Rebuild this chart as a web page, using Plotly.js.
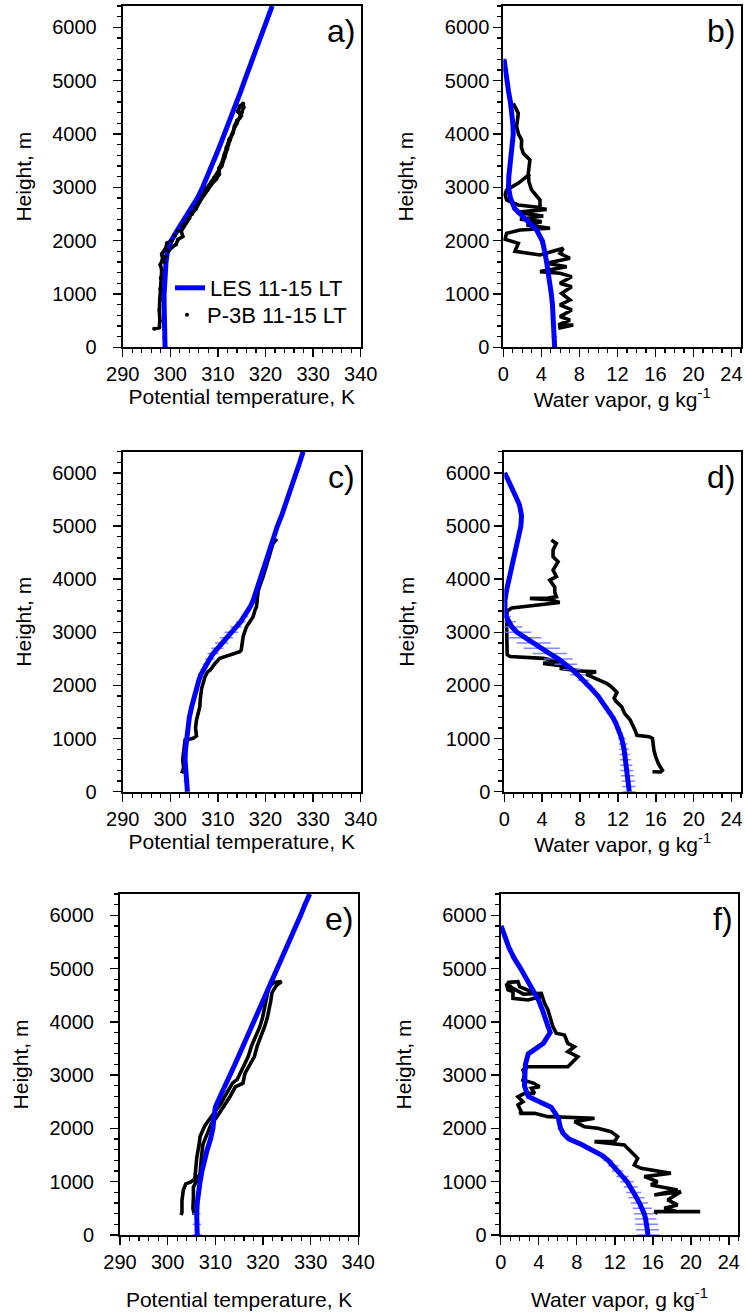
<!DOCTYPE html>
<html>
<head>
<meta charset="utf-8">
<script src="https://cdn.plot.ly/plotly-3.0.1.min.js"></script>
<style>html,body{margin:0;padding:0;background:#fff;}#chart{width:746px;height:1314px;}</style>
</head>
<body>
<div id="chart"></div>
<script>
// ---- LES model levels (m) ----
const lesHeights = [0,200,400,600,800,1000,1200,1400,1600,1800,2000,2200,2400,2600,2800,3000,3200,3400,3600,3800,4000,4200,4400,4600,4800,5000,5200,5400,5600,5800,6000,6200,6400];
const lesHeightsC = [0,200,400,600,800,1000,1200,1400,1600,1800,2000,2100,2200,2300,2400,2500,2600,2700,2800,2900,3000,3100,3200,3300,3400,3500,3600,3800,4000,4200,4400,4600,4800,5000,5200,5400,5600,5800,6000,6200,6400];
const lesHeightsD = [0,100,200,300,400,500,600,700,800,900,1000,1100,1200,1300,1400,1500,1600,1700,1800,1900,2000,2100,2200,2300,2400,2500,2600,2700,2800,2900,3000,3100,3200,3300,3400,3600,3800,4000,4200,4400,4600,4800,5000,5200,5400,5600,5800,6000];
const lesHeightsF = [0,100,200,300,400,500,600,700,800,900,1000,1100,1200,1300,1400,1500,1600,1700,1800,1900,2000,2200,2400,2600,2800,3000,3200,3400,3600,3800,4000,4200,4400,4600,4800,5000,5200,5400,5600,5800];

// ---- Panel a: potential temperature, case 1 ----
const lesThetaA = [298.9,298.8,298.7,298.7,298.7,298.7,298.8,298.9,299.1,299.4,300.2,301.5,303.0,304.4,305.7,306.8,307.8,308.7,309.6,310.5,311.4,312.3,313.1,314.0,314.8,315.6,316.4,317.3,318.1,318.9,319.8,320.6,321.4];
const lesThetaAErr = [0.6,0.5,0.4,0.3,0.3,0.3,0.3,0.3,0.3,0.3,0.3,0.4,0.4,0.4,0.3,0.3,0.3,0.3,0.3,0.3,0.3,0.3,0.3,0.3,0.3,0.3,0.3,0.3,0.3,0.3,0.3,0.3,0.3];
const obsThetaA = [296.6,297.7,297.8,297.7,297.8,297.9,298.0,298.2,297.9,298.4,298.2,299.0,299.3,300.3,301.0,301.6,302.6,303.6,304.6,305.4,306.3,307.0,307.8,308.6,309.6,310.3,310.2,310.8,311.3,311.8,312.4,313.0,313.4,314.0,314.6,315.0,315.4,315.3,
  314.6,314.2,314.9,314.0,313.5,313.2,312.5,312.0,311.4,310.8,310.0,309.2,308.6,307.6,306.8,306.0,305.2,304.4,304.0,303.4,302.8,302.3,302.6,301.6,301.2,300.4,299.6,299.0,298.8];
const obsHeightA = [350,370,500,700,900,1100,1300,1450,1550,1650,1750,1850,1950,2000,2100,2180,2300,2400,2500,2600,2750,2850,2950,3050,3150,3250,3350,3450,3600,3750,3900,4000,4100,4200,4300,4400,4500,4570,
  4520,4420,4340,4250,4150,4030,3880,3720,3560,3400,3280,3180,3100,2980,2850,2720,2620,2520,2420,2340,2260,2180,2080,2020,1930,1880,1800,1700,1600];

// ---- Panel b: water vapor, case 1 ----
const lesQvB = [5.4,5.37,5.32,5.26,5.17,5.05,4.92,4.75,4.55,4.35,4.1,3.5,2.4,1.2,0.75,0.55,0.58,0.7,0.85,0.98,1.05,1.0,0.9,0.75,0.55,0.35,0.2,0.08,null,null,null,null,null];
const lesQvBErr = [0.3,0.3,0.25,0.2,0.2,0.2,0.2,0.2,0.2,0.2,0.3,0.4,0.4,0.3,0.2,0.2,0.2,0.2,0.2,0.2,0.2,0.2,0.2,0.2,0.2,0.2,0.2,0.2,0.2,0.2,0.2,0.2,0.2];
const obsQvB = [1.05,1.3,1.58,1.4,1.6,1.93,1.9,2.1,2.8,2.63,2.7,2.98,3.86,3.86,4.56,1.4,4.2,1.75,4.03,2.45,4.91,1.75,0.35,0.18,1.58,1.23,3.86,6.31,5.96,7.0,4.56,6.66,3.86,5.96,7.19,5.96,7.19,6.13,7.01,5.96,7.19,5.96,7.01,5.78,7.36,5.78];
const obsHeightB = [4575,4480,4387,4137,4000,3887,3750,3637,3512,3262,3100,2950,2762,2600,2587,2530,2462,2400,2356,2294,2231,2200,2137,2025,1950,1800,1731,1856,1762,1669,1575,1512,1419,1387,1325,1200,1137,1012,887,794,700,575,512,419,419,356];
const obsQvB2 = [2.8,1.6,0.35,0.18,0.35,1.58,3.86];
const obsHeightB2 = [3250,3080,2950,2870,2762,2669,2620];

// ---- Panel c: potential temperature, case 2 ----
const lesThetaC = [303.6,303.4,303.2,303.1,303.2,303.4,303.7,304.0,304.5,305.0,305.6,306.0,306.4,306.95,307.6,308.3,309.0,309.9,310.8,311.8,312.8,313.8,314.8,315.6,316.3,316.9,317.4,318.1,319.0,319.6,320.3,321.0,321.7,322.5,323.4,324.2,324.9,325.7,326.4,327.2,327.9];
const lesThetaCErr = [0.6,0.6,0.5,0.5,0.5,0.4,0.4,0.4,0.4,0.4,0.4,0.45,0.5,0.6,0.8,1.0,1.2,1.3,1.4,1.4,1.4,1.2,1.0,0.8,0.6,0.5,0.4,0.3,0.3,0.3,0.3,0.3,0.3,0.3,0.3,0.3,0.3,0.3,0.3,0.3,0.3];
const obsThetaC = [302.4,302.8,302.6,302.9,303.1,304.2,304.8,305.5,305.3,305.5,306.0,306.2,306.3,306.4,306.6,307.3,307.8,308.4,308.9,309.4,310.4,311.4,312.5,313.6,314.6,314.9,315.0,315.3,316.0,316.6,317.4,317.8,318.1,318.3,318.5,319.5,320.6,321.3,321.6,322.4];
const obsHeightC = [346,450,600,800,973,990,1004,1050,1200,1349,1500,1600,1750,1850,1950,2164,2250,2290,2352,2415,2510,2540,2572,2600,2635,2666,2750,2917,3106,3200,3294,3420,3482,3650,3796,4046,4361,4600,4675,4760];

// ---- Panel d: water vapor, case 2 ----
const lesQvD = [13.2,13.15,13.1,13.02,12.95,12.88,12.8,12.72,12.65,12.55,12.4,12.2,12.0,11.75,11.45,11.1,10.7,10.3,9.9,9.4,8.9,8.35,7.75,7.15,6.5,5.7,4.8,3.95,3.1,2.2,1.35,0.8,0.42,0.2,0.07,0.07,0.25,0.5,0.75,0.95,1.2,1.47,1.75,1.82,1.6,1.1,0.6,0.05];
const lesQvDErr = [0.7,0.7,0.7,0.7,0.7,0.65,0.6,0.55,0.5,0.45,0.4,0.3,0.3,0.3,0.3,0.3,0.3,0.3,0.3,0.3,0.4,0.6,0.8,1.0,1.2,1.5,1.8,1.9,1.8,1.7,1.5,1.1,0.8,0.5,0.3,0.2,0.2,0.2,0.2,0.2,0.2,0.2,0.2,0.2,0.2,0.2,0.2,0.2];
const obsQvD = [4.97,5.5,5.15,5.15,5.68,5.15,5.5,4.8,5.33,5.33,5.5,4.6,2.7,4.8,5.85,4.0,0.8,0.3,0.25,0.25,0.25,0.25,0.3,0.6,2.5,4.1,5.85,4.1,6.9,5.85,8.3,9.7,8.65,10.05,10.8,11.3,11.9,11.6,11.8,12.4,12.7,13.3,13.6,13.8,14.0,15.3,15.65,15.7,15.8,16.0,16.3,16.7,16.5,15.65];
const obsHeightD = [4737,4674,4550,4423,4329,4172,4047,3984,3850,3750,3670,3645,3639,3615,3560,3520,3460,3400,3300,3100,2900,2700,2580,2545,2520,2510,2447,2415,2353,2321,2270,2258,2210,2102,2040,1976,1870,1760,1700,1600,1474,1349,1250,1161,1060,1035,1004,900,784,650,520,400,370,376];

// ---- Panel e: potential temperature, case 3 ----
const lesThetaE = [306.2,306.1,306.1,306.2,306.4,306.8,307.2,307.7,308.3,309.0,309.5,309.7,310.0,311.0,312.1,313.2,314.1,315.1,316.1,317.1,318.1,319.1,320.0,320.9,321.9,323.0,324.0,325.0,326.0,327.0,327.9,328.8,329.8];
const lesThetaEErr = [1.0,0.9,0.8,0.6,0.5,0.4,0.3,0.3,0.3,0.3,0.3,0.3,0.3,0.3,0.3,0.3,0.3,0.3,0.3,0.3,0.3,0.3,0.3,0.3,0.3,0.3,0.3,0.3,0.3,0.3,0.3,0.3,0.3];
const obsThetaE = [302.8,303.0,303.0,303.3,303.8,304.8,305.7,305.8,306.1,306.6,306.8,307.8,308.6,309.6,310.2,311.2,312.0,312.8,313.6,314.6,315.2,316.0,316.9,317.6,318.6,319.3,319.9,320.6,321.2,322.3,323.9,
  322.8,321.9,321.6,320.9,320.3,319.6,318.8,318.2,317.3,316.2,315.8,314.2,313.1,312.2,311.3,310.2,309.2,308.2,307.4,307.1,306.8,306.0,305.4,305.4,305.3,305.6];
const obsHeightE = [375,420,650,850,960,990,1050,1200,1450,1700,1850,2050,2150,2250,2350,2470,2600,2720,2850,2920,3030,3200,3350,3550,3750,3900,4070,4380,4650,4740,4755,
  4680,4550,4380,4070,3900,3750,3550,3350,3200,3030,2850,2780,2600,2470,2350,2200,2100,1850,1700,1470,1160,1000,900,700,500,380];

// ---- Panel f: water vapor, case 3 ----
const lesQvF = [15.5,15.45,15.35,15.25,15.1,14.9,14.6,14.3,14.0,13.7,13.3,12.8,12.3,11.85,11.3,10.6,9.6,8.5,7.2,6.6,6.3,6.05,5.3,2.9,2.5,2.5,2.6,2.9,4.5,5.2,4.85,4.43,4.0,3.4,2.75,2.1,1.4,0.85,0.45,0.05];
const lesQvFErr = [1.2,1.2,1.2,1.15,1.1,1.0,0.9,0.85,0.8,0.75,0.7,0.65,0.6,0.55,0.5,0.45,0.4,0.4,0.4,0.35,0.3,0.25,0.25,0.25,0.25,0.25,0.25,0.25,0.25,0.25,0.25,0.25,0.25,0.25,0.25,0.25,0.25,0.25,0.25,0.25];
const obsQvF = [0.59,0.77,1.29,1.29,2.87,4.27,3.22,1.99,1.82,0.7,1.1,2.4,4.27,4.62,4.97,5.32,5.49,5.84,6.71,7.06,7.76,7.06,8.11,7.59,7.06,2.87,2.34,2.52,2.34,3.5,4.09,3.22,3.57,2.52,1.82,2.34,1.82,2.17,1.99,3.57,4.97,9.87,7.76,8.81,10.21,11.61,12.31,11.96,9.87,13.01,13.71,14.41,14.06,14.76,17.91,15.11,16.5,15.81,18.61,16.16,18.96,17.56,18.61,17.21,18.61,20.99,16.16,16.5];
const obsHeightF = [4724,4599,4568,4443,4412,4474,4568,4662,4755,4740,4650,4520,4537,4349,4224,4036,3911,3786,3753,3597,3534,3440,3347,3253,3159,3159,3096,3002,2909,2847,2784,2753,2659,2659,2596,2502,2440,2315,2283,2283,2221,2190,2127,2033,2002,1940,1846,1752,1752,1690,1565,1440,1314,1252,1158,1095,1001,939,845,751,814,658,564,501,438,438,438,407];

// ---- labels ----
const panelLabels = ['a)','b)','c)','d)','e)','f)'];
const thetaTicks = [290,300,310,320,330,340];
const qvTicks = [0,4,8,12,16,20,24];
const heightTicks = [0,1000,2000,3000,4000,5000,6000];
const lesName = 'LES 11-15 LT';
const obsName = 'P-3B 11-15 LT';

const FONT = 'Liberation Sans, Arial, Helvetica, sans-serif';
const blue = '#0000ff';
const errCol = 'rgba(110,110,255,0.85)';

function lesTrace(x, h, err, ax, show) {
  return {x: x, y: h, xaxis: 'x'+ax, yaxis: 'y'+ax, type: 'scatter', mode: 'lines',
    line: {color: blue, width: 5}, name: lesName, showlegend: show, legend: 'legend',
    error_x: {type: 'data', array: err, visible: true, color: errCol, thickness: 1.5, width: 0}};
}
function obsTrace(x, y, ax) {
  return {x: x, y: y, xaxis: 'x'+ax, yaxis: 'y'+ax, type: 'scatter', mode: 'lines',
    line: {color: 'black', width: 3.6}, showlegend: false, name: obsName};
}
const s = (n) => n === 1 ? '' : String(n);

const data = [
  obsTrace(obsThetaA, obsHeightA, ''),
  obsTrace(obsQvB, obsHeightB, '2'),
  obsTrace(obsQvB2, obsHeightB2, '2'),
  obsTrace(obsThetaC, obsHeightC, '3'),
  obsTrace(obsQvD, obsHeightD, '4'),
  obsTrace(obsThetaE, obsHeightE, '5'),
  obsTrace(obsQvF, obsHeightF, '6'),
  lesTrace(lesThetaA, lesHeights, lesThetaAErr, '', true),
  {x: obsThetaA, y: obsHeightA, xaxis: 'x', yaxis: 'y', type: 'scatter', mode: 'markers',
   marker: {color: 'black', size: 4}, name: obsName, showlegend: true, legend: 'legend2'},
  lesTrace(lesQvB, lesHeights, lesQvBErr, '2', false),
  lesTrace(lesThetaC, lesHeightsC, lesThetaCErr, '3', false),
  lesTrace(lesQvD, lesHeightsD, lesQvDErr, '4', false),
  lesTrace(lesThetaE, lesHeights, lesThetaEErr, '5', false),
  lesTrace(lesQvF, lesHeightsF, lesQvFErr, '6', false)
];

const W = 746, H = 1314;
// pixel boxes [left, right, top, bottom]
const boxes = [
  [122.7, 360.7, 6, 347.3],
  [503.3, 741, 6, 347.3],
  [122.7, 360.7, 451.7, 791.7],
  [504.3, 741, 451.7, 791.7],
  [120, 358.3, 894, 1235],
  [500.7, 738.3, 894, 1235]
];
const xTitleStandoff = [0, 0, 0, 0, 20, 20];
const yLabelStandoff = [12, 0, 12, 0, 12, 0];
const yTitleStandoff = [15, 25, 15, 25, 15, 25];

const legFont = {family: FONT, size: 22, color: 'black'};
const layout = {
  width: W, height: H, margin: {l: 0, r: 0, t: 0, b: 0},
  paper_bgcolor: 'white', plot_bgcolor: 'white',
  font: {family: FONT, color: 'black', size: 20},
  showlegend: true,
  legend: {x: 170/W, y: 1 - 267/H, xanchor: 'left', yanchor: 'top', bgcolor: 'rgba(0,0,0,0)',
    font: legFont, itemwidth: 30},
  legend2: {x: 167/W, y: 1 - 294/H, xanchor: 'left', yanchor: 'top', bgcolor: 'rgba(0,0,0,0)',
    font: legFont, itemwidth: 30},
  annotations: []
};

for (let i = 0; i < 6; i++) {
  const n = i + 1;
  const b = boxes[i];
  const isTheta = (i % 2 === 0);
  const xa = {
    domain: [b[0]/W, b[1]/W], anchor: 'y'+s(n),
    range: isTheta ? [290, 340] : [0, 25],
    tickmode: 'array', tickvals: isTheta ? thetaTicks : qvTicks,
    showline: true, linecolor: 'black', linewidth: 2, mirror: true,
    ticks: 'outside', ticklen: 8, tickwidth: 1.5, tickcolor: 'black',
    showgrid: false, zeroline: false,
    tickfont: {family: FONT, size: 20, color: 'black'},
    minor: {ticks: 'outside', ticklen: 4, tickwidth: 1.2, tickcolor: 'black', dtick: isTheta ? 2 : 1, tick0: 0, showgrid: false},
    title: {text: isTheta ? 'Potential temperature, K' : 'Water vapor, g kg<sup>-1</sup>', font: {family: FONT, size: 21, color: 'black'}, standoff: xTitleStandoff[i]}
  };
  const ya = {
    domain: [1 - b[3]/H, 1 - b[2]/H], anchor: 'x'+s(n),
    range: [0, 6400],
    tickmode: 'array', tickvals: heightTicks,
    showline: true, linecolor: 'black', linewidth: 2, mirror: true,
    ticks: 'outside', ticklen: 8, tickwidth: 1.5, tickcolor: 'black',
    ticklabelstandoff: yLabelStandoff[i],
    showgrid: false, zeroline: false,
    tickfont: {family: FONT, size: 20, color: 'black'},
    minor: {ticks: 'outside', ticklen: 4, tickwidth: 1.2, tickcolor: 'black', dtick: 200, tick0: 0, showgrid: false},
    title: {text: 'Height, m', font: {family: FONT, size: 21, color: 'black'}, standoff: yTitleStandoff[i]}
  };
  layout['xaxis'+s(n)] = xa;
  layout['yaxis'+s(n)] = ya;
  layout.annotations.push({
    xref: 'x'+s(n)+' domain', yref: 'y'+s(n)+' domain', x: 0.985, y: 0.985,
    xanchor: 'right', yanchor: 'top', showarrow: false,
    text: panelLabels[i], font: {family: FONT, size: 32, color: 'black'}
  });
}

Plotly.newPlot('chart', data, layout, {displayModeBar: false, staticPlot: true});
</script>
</body>
</html>
